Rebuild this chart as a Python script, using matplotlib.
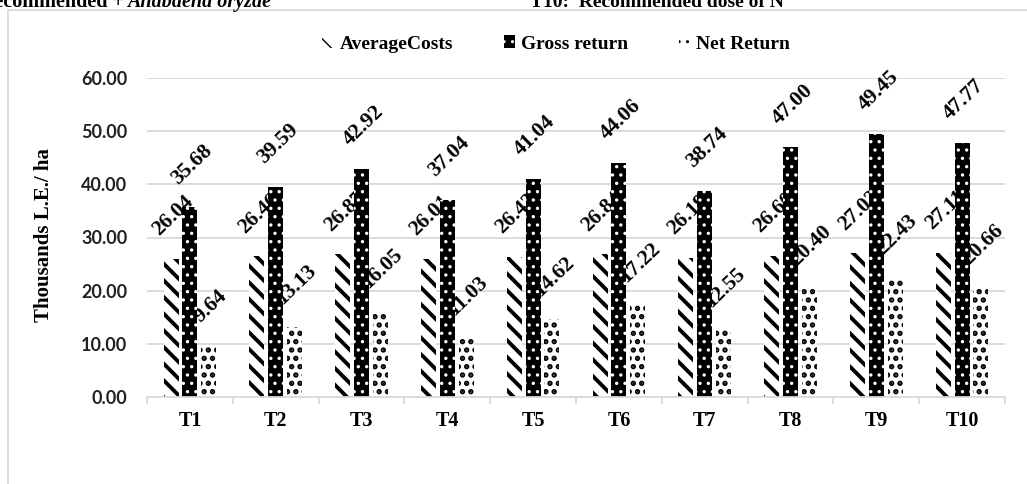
import matplotlib
matplotlib.use("Agg")
import matplotlib.pyplot as plt
import numpy as np
from matplotlib.patches import Rectangle
from matplotlib.ticker import FormatStrFormatter

treatments = ["T1", "T2", "T3", "T4", "T5", "T6", "T7", "T8", "T9", "T10"]
average_costs = [26.04, 26.46, 26.87, 26.01, 26.42, 26.84, 26.19, 26.60, 27.02, 27.11]
gross_return = [35.68, 39.59, 42.92, 37.04, 41.04, 44.06, 38.74, 47.00, 49.45, 47.77]
net_return = [9.64, 13.13, 16.05, 11.03, 14.62, 17.22, 12.55, 20.40, 22.43, 20.66]
series_names = ["AverageCosts", "Gross return", "Net Return"]
y_ticks = [0, 10, 20, 30, 40, 50, 60]

SERIF = "Liberation Serif"
GRID = "#d9d9d9"
W, H = 1027, 484

fig = plt.figure(figsize=(W / 100, H / 100), dpi=100)
ax = fig.add_axes([147 / W, 87 / H, 858 / W, 319 / H])

x = np.arange(len(treatments))
width = 0.175
offset = 0.22

styles = [
    dict(facecolor="white", edgecolor="black", hatch="\\\\", hlw=2.8),
    dict(facecolor="black", edgecolor="white", hatch="..", hlw=1.2),
    dict(facecolor="white", edgecolor="black", hatch="..", hlw=2.6),
]
values = [average_costs, gross_return, net_return]

bars = []
for i, (vals, st) in enumerate(zip(values, styles)):
    with plt.rc_context({"hatch.linewidth": st["hlw"]}):
        b = ax.bar(x + (i - 1) * offset, vals, width, facecolor=st["facecolor"],
                   edgecolor=st["edgecolor"], hatch=st["hatch"], linewidth=0,
                   label=series_names[i], zorder=2)
    for p in b:
        if hasattr(p, "set_hatch_linewidth"):
            p.set_hatch_linewidth(st["hlw"])
    bars.append(b)
    for xi, v in zip(x + (i - 1) * offset, vals):
        ax.annotate(f"{v:.2f}", (xi, v), xytext=(2, 19), textcoords="offset pixels",
                    ha="center", va="bottom", rotation=44, fontsize=15.5,
                    fontweight="bold", family=SERIF, zorder=1.5)

ax.set_xlim(-0.5, len(treatments) - 0.5)
ax.set_ylim(0, 60)
ax.set_yticks(y_ticks)
ax.yaxis.set_major_formatter(FormatStrFormatter("%.2f"))
ax.set_xticks(x)
ax.set_xticklabels(treatments, fontsize=14.5, fontweight="bold", family=SERIF)
ax.set_xticks(np.arange(-0.5, len(treatments)), minor=True)
ax.tick_params(axis="x", which="major", length=0, pad=10)
ax.tick_params(axis="x", which="minor", length=5, color=GRID, width=1.3)
ax.tick_params(axis="y", length=0, pad=14)
for lbl in ax.get_yticklabels():
    lbl.set_fontfamily("Lato")
    lbl.set_fontweight("bold")
    lbl.set_fontsize(13)
    lbl.set_color("#222222")

for side in ["top", "right", "left"]:
    ax.spines[side].set_visible(False)
ax.spines["bottom"].set_color(GRID)
ax.spines["bottom"].set_linewidth(1.3)
ax.set_axisbelow(True)
ax.yaxis.grid(True, color=GRID, linewidth=1.3)

fig.text(44 / W, 1 - 235 / H, "Thousands L.E./ ha", rotation=90, ha="center", va="center",
         fontsize=15, fontweight="bold", family=SERIF)

fig.legend(handles=bars, labels=series_names, loc="center", bbox_to_anchor=(556 / W, 1 - 44 / H),
           ncol=3, frameon=False, handlelength=0.6, handleheight=0.6, handletextpad=0.3,
           columnspacing=2.6, prop=dict(family=SERIF, weight="bold", size=14))

# caption lines of the surrounding page, clipped at the top edge
fig.text(124 / W, 1 - 7 / H, "Recommended +", ha="right", va="baseline",
         fontsize=14.5, fontweight="bold", family=SERIF)
fig.text(127 / W, 1 - 7 / H, "Anabaena oryzae", ha="left", va="baseline",
         fontsize=14.5, fontweight="bold", style="italic", family=SERIF)
fig.text(530 / W, 1 - 7 / H, "T10:  Recommended dose of N", ha="left", va="baseline",
         fontsize=14, fontweight="bold", family=SERIF)

# chart area border
fig.add_artist(Rectangle((8 / W, -0.1), 1.2, 1.1 - 10 / H, transform=fig.transFigure,
                         fill=False, edgecolor=GRID, linewidth=1.3))

fig.savefig("out.png", dpi=100)
